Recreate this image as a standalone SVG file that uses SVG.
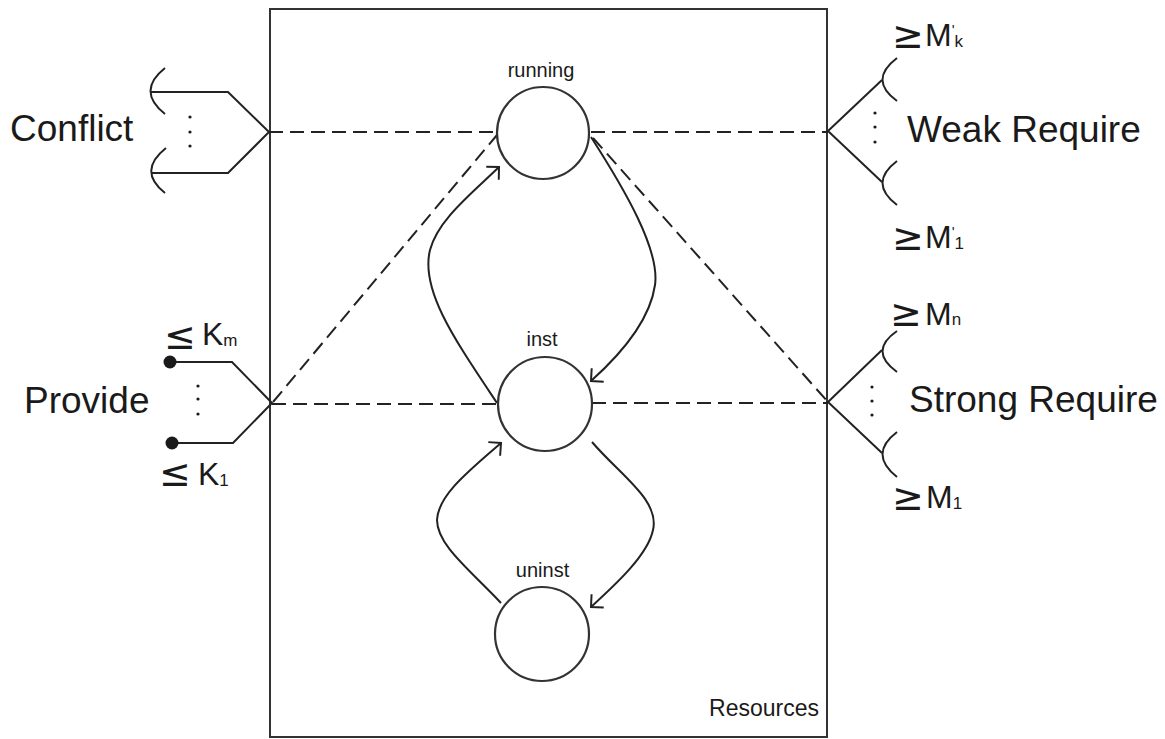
<svg xmlns="http://www.w3.org/2000/svg" width="1165" height="739" viewBox="0 0 1165 739">
<style>
.ln{fill:none;stroke:#222;stroke-width:2;stroke-linejoin:miter}
.dash{fill:none;stroke:#222;stroke-width:2;stroke-dasharray:14 7}
.arc{fill:none;stroke:#222;stroke-width:2}
.st{fill:#fff;stroke:#333;stroke-width:2.2}
.big{font-family:"Liberation Sans",Arial,sans-serif;font-size:37px;fill:#1a1a1a}
.sm{font-family:"Liberation Sans",Arial,sans-serif;font-size:20px;fill:#1a1a1a}
.res{font-family:"Liberation Sans",Arial,sans-serif;font-size:23px;fill:#1a1a1a}
.rel{font-family:"DejaVu Sans",sans-serif;font-size:38px;fill:#1a1a1a}
.cap{font-family:"Liberation Sans",Arial,sans-serif;font-size:32px;fill:#1a1a1a}
.sub{font-family:"Liberation Sans",Arial,sans-serif;font-size:17px;fill:#1a1a1a}
.pr{font-size:15px}
.dot{fill:#1a1a1a}
</style>
<defs>
<marker id="ah" markerUnits="userSpaceOnUse" viewBox="-12 -12 24 24" markerWidth="24" markerHeight="24" refX="0" refY="0" orient="auto" overflow="visible">
<path d="M -9,-9 L 0,0 L -9,9" fill="none" stroke="#222" stroke-width="2"/>
</marker>
</defs>
<rect width="1165" height="739" fill="#fff"/>

<g id="resources">
<rect x="270" y="9" width="557" height="728" fill="none" stroke="#333" stroke-width="2"/>
<text class="res" x="819" y="716" text-anchor="end">Resources</text>
</g>

<g id="connectors">
<line class="dash" x1="269" y1="132" x2="497" y2="132"/>
<line class="dash" x1="591" y1="132" x2="828" y2="132"/>
<line class="dash" x1="272" y1="404" x2="497" y2="404"/>
<line class="dash" x1="592" y1="403" x2="828" y2="403"/>
<line class="dash" x1="273" y1="402" x2="497" y2="135"/>
<line class="dash" x1="593" y1="138" x2="828" y2="402"/>
<path class="ln" d="M 497,403 C 455,340 420,290 430,250 C 438,220 470,195 499,167" marker-end="url(#ah)"/>
<path class="ln" d="M 591,137 C 625,190 660,250 655,285 C 650,320 620,355 591,381" marker-end="url(#ah)"/>
<path class="ln" d="M 592,442 C 620,475 660,500 653,530 C 648,555 615,585 591,607" marker-end="url(#ah)"/>
<path class="ln" d="M 501,603 C 470,570 437,545 437,520 C 438,495 470,470 501,443" marker-end="url(#ah)"/>
</g>

<g id="running">
<circle class="st" cx="543" cy="133" r="46"/>
<text class="sm" x="541" y="77" text-anchor="middle">running</text>
</g>
<g id="inst">
<circle class="st" cx="545" cy="404" r="47"/>
<text class="sm" x="542" y="346" text-anchor="middle">inst</text>
</g>
<g id="uninst">
<circle class="st" cx="542" cy="634" r="47"/>
<text class="sm" x="542.5" y="577" text-anchor="middle">uninst</text>
</g>

<g id="conflict">
<polyline class="ln" points="150,92 228,92 269,132 228,173 152,173"/>
<path class="arc" d="M 165,68 Q 136,91 165,114"/>
<path class="arc" d="M 166,148 Q 137,171 165,193"/>
<circle class="dot" cx="190" cy="117" r="1.6"/>
<circle class="dot" cx="190" cy="132" r="1.6"/>
<circle class="dot" cx="190" cy="146" r="1.6"/>
<text class="big" x="10" y="141">Conflict</text>
</g>

<g id="provide">
<polyline class="ln" points="170,362 232,362 272,403 233,443 172,443"/>
<circle class="dot" cx="170" cy="362" r="6.5"/>
<circle class="dot" cx="172" cy="443" r="6.5"/>
<circle class="dot" cx="198" cy="386" r="1.6"/>
<circle class="dot" cx="198" cy="399" r="1.6"/>
<circle class="dot" cx="198" cy="414" r="1.6"/>
<text class="big" x="24" y="413">Provide</text>
<text class="rel" x="164" y="349">≤</text>
<text class="cap" x="202" y="345">K<tspan class="sub" dy="1">m</tspan></text>
<text class="rel" x="159" y="486">≤</text>
<text class="cap" x="198" y="485">K<tspan class="sub" dy="1">1</tspan></text>
</g>

<g id="weak-require">
<polyline class="ln" points="882,80 828,131 882,182"/>
<path class="arc" d="M 897,58 Q 868,80 897,101"/>
<path class="arc" d="M 897,161 Q 868,183 897,205"/>
<circle class="dot" cx="875" cy="113" r="1.6"/>
<circle class="dot" cx="875" cy="127" r="1.6"/>
<circle class="dot" cx="875" cy="142" r="1.6"/>
<text class="big" x="907" y="142">Weak Require</text>
<text class="rel" x="892" y="48">≥</text>
<text class="cap" x="925" y="46">M<tspan class="pr" dy="-11">'</tspan><tspan class="sub" dy="12">k</tspan></text>
<text class="rel" x="892" y="250">≥</text>
<text class="cap" x="925" y="248">M<tspan class="pr" dy="-11">'</tspan><tspan class="sub" dy="12">1</tspan></text>
</g>

<g id="strong-require">
<polyline class="ln" points="882,350 828,402 882,453"/>
<path class="arc" d="M 897,331 Q 868,351 897,372"/>
<path class="arc" d="M 897,432 Q 868,454 897,477"/>
<circle class="dot" cx="872" cy="387" r="1.6"/>
<circle class="dot" cx="872" cy="401" r="1.6"/>
<circle class="dot" cx="872" cy="415" r="1.6"/>
<text class="big" x="909" y="412">Strong Require</text>
<text class="rel" x="890" y="326">≥</text>
<text class="cap" x="925" y="325">M<tspan class="sub">n</tspan></text>
<text class="rel" x="892" y="510">≥</text>
<text class="cap" x="926" y="508">M<tspan class="sub" dy="1">1</tspan></text>
</g>
</svg>
